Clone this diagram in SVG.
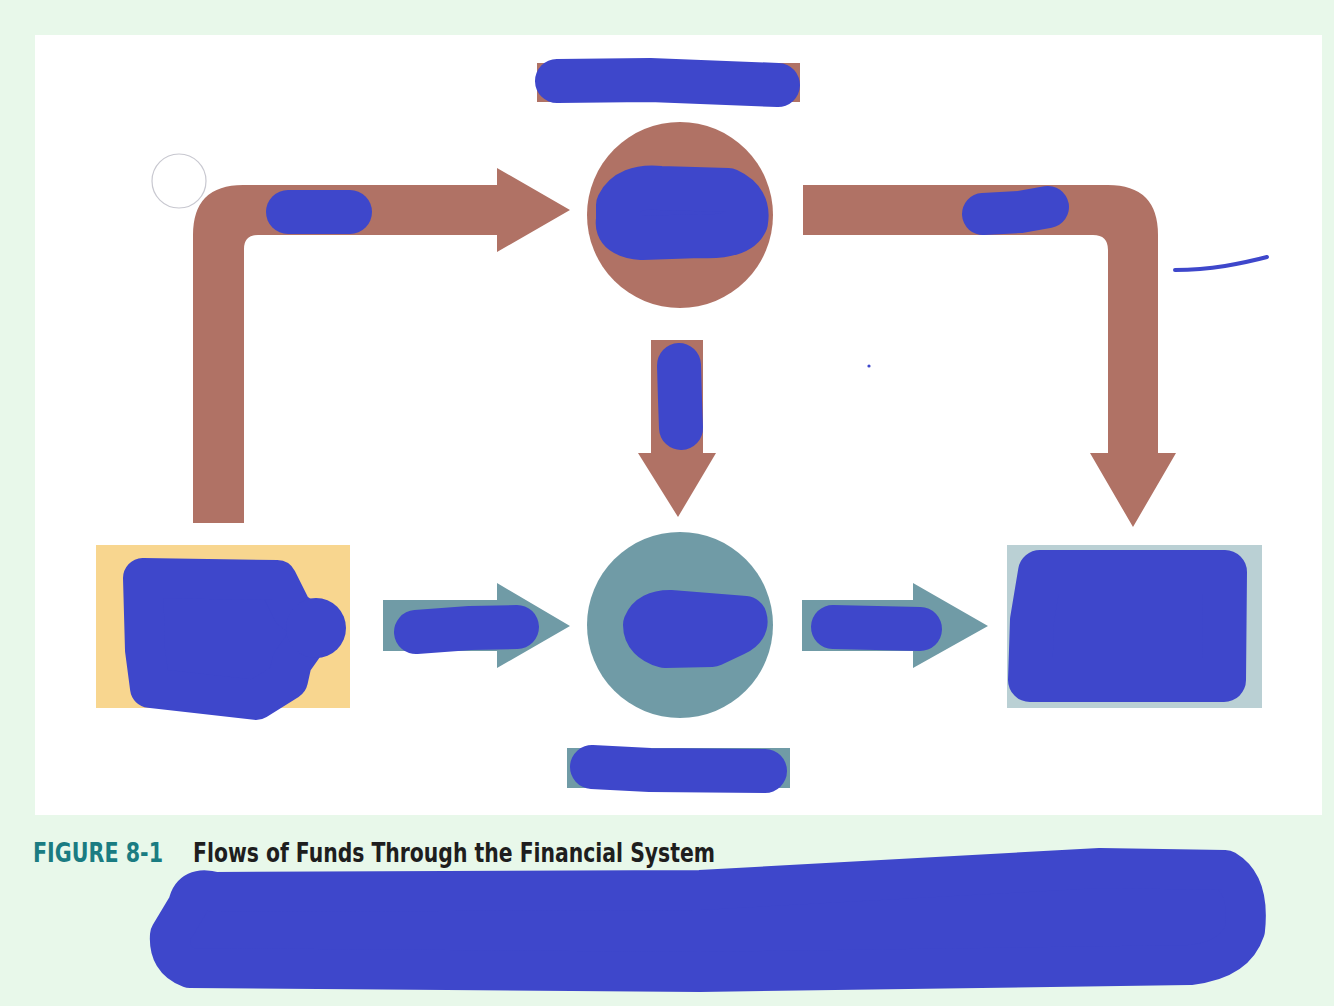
<svg xmlns="http://www.w3.org/2000/svg" width="1334" height="1006" viewBox="0 0 1334 1006">
<style>
.brown{fill:#b07265}
.teal{fill:#709ba6}
.pen{fill:none;stroke:#3e47cb;stroke-linecap:round;stroke-linejoin:round}
.blob{fill:#3e47cb;stroke:#3e47cb;stroke-linejoin:round;stroke-linecap:round}
.cap{font-family:"DejaVu Sans Condensed","Liberation Sans",sans-serif;font-weight:bold;font-size:26px}
</style>
<rect width="1334" height="1006" fill="#e8f8ea"/>
<rect x="35" y="35" width="1287" height="780" fill="#ffffff"/>
<circle cx="179" cy="181" r="27" fill="none" stroke="#c8c8d0" stroke-width="1.2"/>

<g id="connectors">
  <path class="brown" d="M193,523 L193,235 Q193,185 243,185 L497,185 L497,168 L570,210 L497,252 L497,235 L258,235 Q244,235 244,249 L244,523 Z"/>
  <path class="brown" d="M803,185 L1108,185 Q1158,185 1158,235 L1158,453 L1176,453 L1133,527 L1090,453 L1108,453 L1108,250 Q1108,235 1093,235 L803,235 Z"/>
  <path class="brown" d="M651,340 L703,340 L703,453 L716,453 L678,517 L638,453 L651,453 Z"/>
  <path class="teal" d="M383,600 L497,600 L497,583 L570,626 L497,668 L497,651 L383,651 Z"/>
  <path class="teal" d="M802,600 L913,600 L913,583 L988,626 L913,668 L913,651 L802,651 Z"/>
</g>

<g id="top-label"><rect class="brown" x="537" y="63" width="263" height="39"/></g>
<g id="top-circle"><circle class="brown" cx="680" cy="215" r="93"/></g>
<g id="bottom-circle"><circle class="teal" cx="680" cy="625" r="93"/></g>
<g id="bottom-label"><rect class="teal" x="567" y="748" width="223" height="40"/></g>
<g id="left-box"><rect x="96" y="545" width="254" height="163" fill="#f8d68f"/></g>
<g id="right-box"><rect x="1007" y="545" width="255" height="163" fill="#bad0d4"/></g>

<g id="caption">
  <text class="cap" x="33" y="862" fill="#1a7c82" textLength="130" lengthAdjust="spacingAndGlyphs">FIGURE 8-1</text>
  <text class="cap" x="193" y="862" fill="#1e1e1e" textLength="522" lengthAdjust="spacingAndGlyphs">Flows of Funds Through the Financial System</text>
</g>

<g id="scribbles">
  <path class="pen" stroke-width="44" d="M557,81 L650,80 L778,85"/>
  <path class="blob" stroke-width="44" d="M618,205 Q628,185 660,188 L728,190 Q750,200 746,222 Q738,238 700,236 L642,238 Q615,236 618,220 Z"/>
  <path class="pen" stroke-width="44" d="M288,212 L350,212"/>
  <path class="pen" stroke-width="42" d="M983,214 L1020,212 L1048,207"/>
  <path class="pen" stroke-width="4" d="M1175,270 Q1200,270 1225,266 Q1248,262 1267,257"/>
  <circle cx="869" cy="366" r="1.6" fill="#3e47cb"/>
  <path class="pen" stroke-width="44" d="M679,365 L680,400 L681,428"/>
  <path class="blob" stroke-width="40" d="M143,578 L277,580 L292,610 L316,628 L292,662 L288,680 L256,700 L150,688 L145,650 Z"/>
  <circle cx="316" cy="628" r="30" fill="#3e47cb"/>
  <path class="blob" stroke-width="44" d="M645,625 Q650,612 670,612 L745,618 Q748,628 735,634 L712,645 L665,646 Q645,640 645,625 Z"/>
  <path class="pen" stroke-width="44" d="M416,632 L470,628 L517,627"/>
  <path class="pen" stroke-width="44" d="M833,627 L920,629"/>
  <path class="blob" stroke-width="44" d="M1040,572 L1225,572 L1224,680 L1030,680 L1032,620 Z"/>
  <path class="pen" stroke-width="44" d="M592,767 L650,770 L765,771"/>
  <path class="blob" stroke-width="40" d="M188,905 Q192,885 215,892 L700,890 L1100,868 L1225,870 Q1250,885 1245,930 Q1235,960 1190,965 L700,972 L190,968 Q168,960 170,935 Z"/>
</g>
</svg>
